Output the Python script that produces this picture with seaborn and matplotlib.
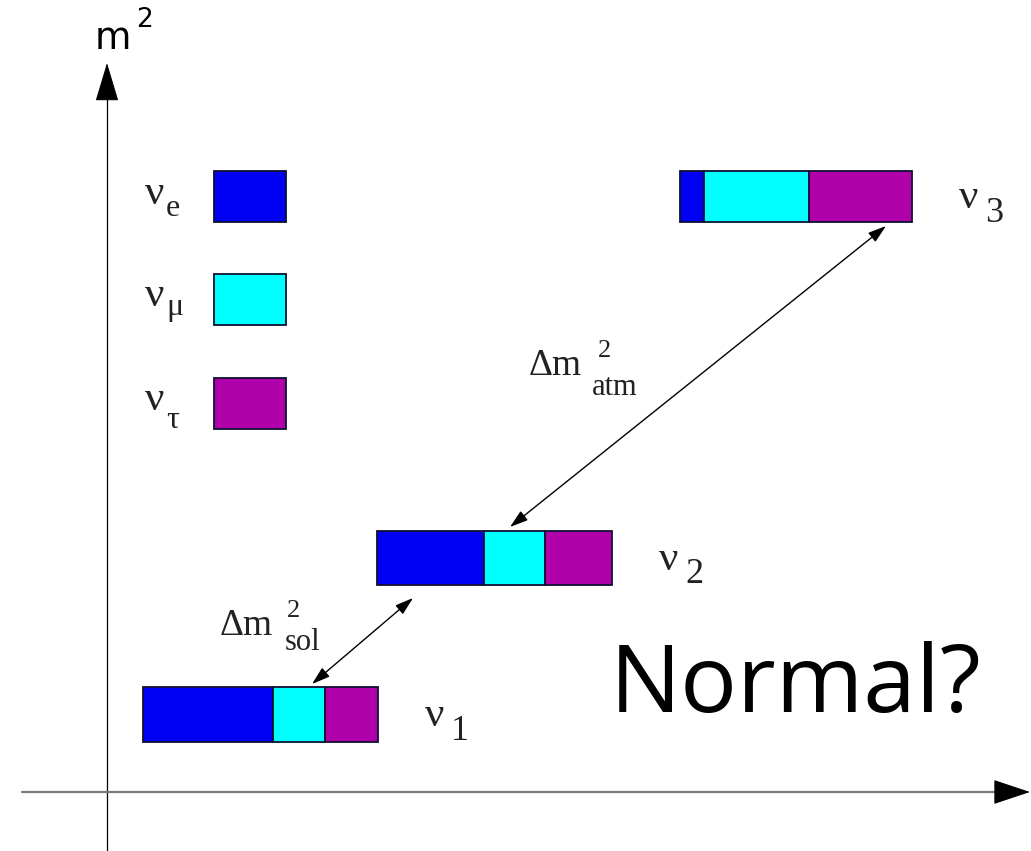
import matplotlib
matplotlib.use("Agg")
import matplotlib.pyplot as plt
import seaborn as sns
import pandas as pd

sns.set_theme(style="white")
plt.rcParams["font.family"] = ["DejaVu Sans"]

SERIF = "Liberation Serif"
INK = "#222222"

# Mass eigenstates and their flavour content (fractions of each bar)
state_index = ["1", "2", "3"]
frac_e = [0.553, 0.455, 0.103]
frac_mu = [0.221, 0.260, 0.453]
frac_tau = [0.226, 0.285, 0.444]

# Diagram layout in drawing units (x to the right, m^2 upward = smaller y)
level_y = [714.5, 558.0, 196.5]
bar_left = [143, 377, 680]
bar_len = [235, 235, 232]
bar_h = [55, 54, 51]

# Flavour legend
flavor_sub = ["e", "\u03bc", "\u03c4"]
flavor_colors = ["#0000f2", "#00ffff", "#b000aa"]
legend_y = [196.5, 299.5, 403.0]

df = pd.DataFrame({"idx": state_index, "e": frac_e, "mu": frac_mu, "tau": frac_tau,
                   "y": level_y, "left": bar_left, "length": bar_len, "h": bar_h})

fig = plt.figure(figsize=(10.31, 8.51), dpi=100)
ax = fig.add_axes([0, 0, 1, 1])
ax.set_xlim(0, 1031)
ax.set_ylim(851, 0)
ax.axis("off")


def nu_label(x, base, sub, sub_dx, sub_drop, sub_size):
    """Upright nu with a separately placed subscript."""
    ax.text(x, base, "\u03bd", fontsize=31, family=SERIF, color=INK,
            ha="left", va="baseline")
    ax.text(x + sub_dx, base + sub_drop, sub, fontsize=sub_size, family=SERIF,
            color=INK, ha="left", va="baseline")


def delta_label(x, base, sub, sup_dx, sub_dx, sub_drop):
    ax.text(x, base, "\u0394m", fontsize=27, family=SERIF, color=INK,
            ha="left", va="baseline")
    ax.text(x + sup_dx, base - 18, "2", fontsize=19, family=SERIF, color=INK,
            ha="left", va="baseline")
    ax.text(x + sub_dx, base + sub_drop, sub, fontsize=22, family=SERIF, color=INK,
            ha="left", va="baseline")


# Stacked flavour bars for each mass eigenstate
for _, row in df.iterrows():
    start = row["left"]
    for key, col in zip(["e", "mu", "tau"], flavor_colors):
        w = row[key] * row["length"]
        ax.barh(row["y"], w, height=row["h"], left=start, color=col,
                edgecolor="#101030", linewidth=1.3)
        start += w
    nu_label(row["left"] + row["length"] + 47, row["y"] + 12, row["idx"],
             26, 13, 26)

# Legend boxes
for sub, col, y, drop in zip(flavor_sub, flavor_colors, legend_y, [12, 9, 18]):
    ax.barh(y, 72, height=51, left=214, color=col, edgecolor="#101030", linewidth=1.3)
    nu_label(145, y + 7, sub, 21, drop, 23)

# Mass axes
ax.plot([107, 107], [851, 98], color="black", lw=0.9)
ax.annotate("", xy=(107, 63), xytext=(107, 99),
            arrowprops=dict(arrowstyle="-|>,head_length=25,head_width=7.5",
                            mutation_scale=1, color="black", lw=0.8,
                            shrinkA=0, shrinkB=0))
ax.plot([22, 997], [792, 792], color="#7a7a7a", lw=1.6)
ax.annotate("", xy=(1030, 792), xytext=(996, 792),
            arrowprops=dict(arrowstyle="-|>,head_length=24,head_width=8",
                            mutation_scale=1, color="black", lw=0.8,
                            shrinkA=0, shrinkB=0))
ax.text(95, 49, "m", fontsize=27, ha="left", va="baseline", color="black")
ax.text(136, 27, "2", fontsize=19, ha="left", va="baseline", color="black")

# Mass splittings
splittings = [((413, 598), (312, 684)), ((886, 226), (510, 527))]
for a, b in splittings:
    ax.annotate("", xy=a, xytext=b,
                arrowprops=dict(arrowstyle="<|-|>,head_length=11,head_width=3.5",
                                mutation_scale=1, color="black", lw=1.0,
                                shrinkA=0, shrinkB=0))
delta_label(220, 635, "sol", 67, 65, 15)
delta_label(529, 375, "atm", 69, 63, 20)

ax.text(610, 712, "Normal?", fontsize=68, family="Open Sans",
        ha="left", va="baseline", color="black")

fig.savefig("out.png", dpi=100)
